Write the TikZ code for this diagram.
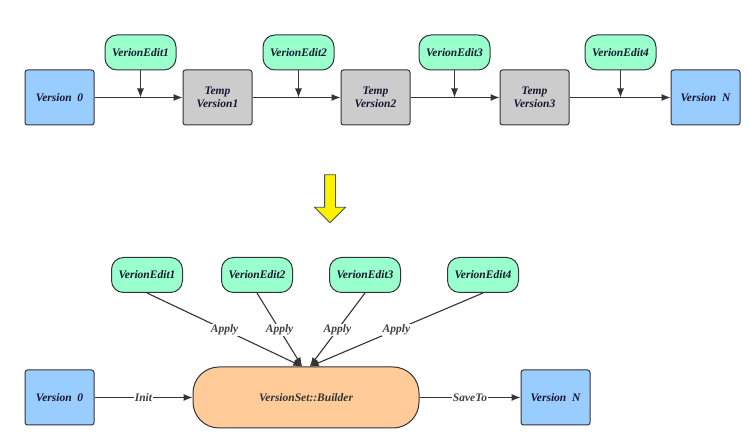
\documentclass[tikz,border=0pt]{standalone}
\usepackage{fontspec}
\setmainfont{Liberation Serif}
\usetikzlibrary{shapes,arrows.meta}
\definecolor{verblue}{RGB}{153,204,255}
\definecolor{editgreen}{RGB}{153,255,204}
\definecolor{tempgray}{RGB}{204,204,204}
\definecolor{buildorange}{RGB}{255,204,153}
\definecolor{edgegray}{RGB}{51,51,56}
\definecolor{textnavy}{RGB}{22,22,48}
\tikzstyle{line} = [draw=edgegray, line width=1.1pt, -{Latex[length=9pt,width=7pt]}]
\tikzstyle{version} = [rectangle, draw=edgegray, line width=1pt, fill=verblue, rounded corners=2.5pt, minimum width=69pt, minimum height=55pt, align=center, text=textnavy, font=\fontsize{11.5}{13}\selectfont\bfseries\itshape]
\tikzstyle{temp} = [version, fill=tempgray]
\tikzstyle{edit} = [rectangle, draw=edgegray, line width=1pt, fill=editgreen, rounded corners=12pt, minimum width=71pt, minimum height=35pt, text centered, text=textnavy, font=\fontsize{11.5}{13}\selectfont\bfseries\itshape]
\tikzstyle{builder} = [rectangle, draw=edgegray, line width=1pt, fill=buildorange, rounded corners=26pt, minimum width=226pt, minimum height=61pt, text centered, text=black!80, font=\fontsize{11.5}{13}\selectfont\bfseries\itshape]
\tikzstyle{lbl} = [fill=white, inner sep=1pt, text=black!75, font=\fontsize{11.5}{13}\selectfont\bfseries\itshape]
\tikzstyle{bigarrow} = [single arrow, draw=black!70, line width=0.8pt, fill=yellow, inner sep=5pt, minimum height=48pt, single arrow head extend=10pt, shape border rotate=270]

\begin{document}
\begin{tikzpicture}[x=1pt, y=1pt, node distance=158pt]
\useasboundingbox (0,0) rectangle (750,435);
\node [version] (v0) at (59.5,337.5) {Version~~0};
\node [temp, right of = v0] (t1) {Temp\\Version1};
\node [temp, right of = t1] (t2) {Temp\\Version2};
\node [temp, right of = t2, node distance = 159pt] (t3) {Temp\\Version3};
\node [version, right of = t3, node distance = 171pt] (vN) {Version~~N};
\path [line] (v0) to (t1);
\path [line] (t1) to (t2);
\path [line] (t2) to (t3);
\path [line] (t3) to (vN);

\coordinate [right of = v0, node distance = 81pt] (m1);
\coordinate [right of = t1, node distance = 81pt] (m2);
\coordinate [right of = t2, node distance = 79pt] (m3);
\coordinate [right of = t3, node distance = 86pt] (m4);
\node [edit, above of = m1, node distance = 45pt] (e1) {VerionEdit1};
\node [edit, above of = m2, node distance = 45pt] (e2) {VerionEdit2};
\node [edit, above of = m3, node distance = 45pt] (e3) {VerionEdit3};
\node [edit, above of = m4, node distance = 45pt] (e4) {VerionEdit4};
\path [line] (e1.south) to (m1);
\path [line] (e2.south) to (m2);
\path [line] (e3.south) to (m3);
\path [line] (e4.south) to (m4);

\node [bigarrow] (down) at (330,239) {};

\node [builder] (vsb) at (306,37.5) {VersionSet::Builder};
\node [version, left of = vsb, node distance = 246.5pt] (b0) {Version~~0};
\node [version, right of = vsb, node distance = 249.5pt] (bN) {Version~~N};
\path [line] (b0.east) to node [lbl] {Init} (vsb.west);
\path [line] (vsb.east) to node [lbl] {SaveTo} (bN.west);

\node [edit] (be1) at (147,160) {VerionEdit1};
\node [edit, right of = be1, node distance = 110pt] (be2) {VerionEdit2};
\node [edit, right of = be2, node distance = 108pt] (be3) {VerionEdit3};
\node [edit, right of = be3, node distance = 118pt] (be4) {VerionEdit4};
\path [line] (be1.south) to node [lbl] {Apply} (vsb.97);
\path [line] (be2.south) to node [lbl] {Apply} (vsb.97);
\path [line] (be3.south) to node [lbl] {Apply} (vsb.83);
\path [line] (be4.south) to node [lbl] {Apply} (vsb.83);

\end{tikzpicture}
\end{document}
